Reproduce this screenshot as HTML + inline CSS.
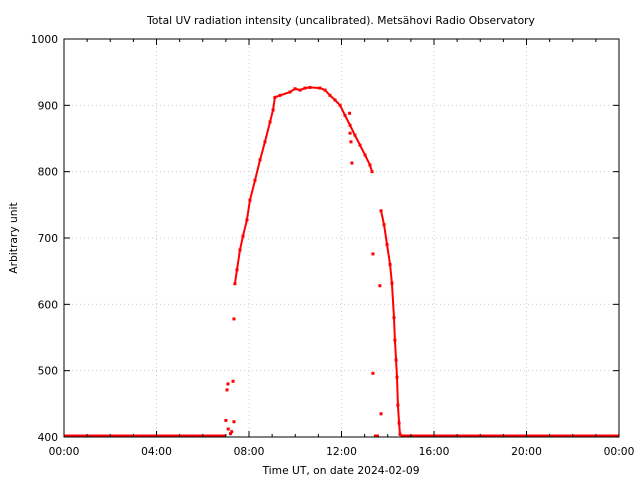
<!DOCTYPE html>
<html><head><meta charset="utf-8"><style>
body{margin:0;background:#fff}
svg text{font-family:"DejaVu Sans","Liberation Sans",sans-serif;font-size:10.7px;fill:#000}
</style></head><body>
<svg width="640" height="480" id="c">
<text x="341" y="24" text-anchor="middle">Total UV radiation intensity (uncalibrated). Metsähovi Radio Observatory</text>
<text x="341" y="474" text-anchor="middle">Time UT, on date 2024-02-09</text>
<text transform="translate(17,238) rotate(-90)" text-anchor="middle">Arbitrary unit</text>
<g id="grid"></g>
<g id="marks"></g>
<rect x="64" y="39" width="555" height="398" fill="none" stroke="#000" stroke-width="1"/>
<g id="axes"></g>
</svg>
<script>
const yTicks=[400,500,600,700,800,900,1000];
const xTicks=[0,4,8,12,16,20,24];
const xTickLabels=["00:00","04:00","08:00","12:00","16:00","20:00","00:00"];
const riseT=[7.39,7.48,7.61,7.74,7.91,8.04,8.26,8.48,8.69,8.91,9.04,9.12,9.34,9.77,9.99,10.21,10.42,10.64,11.07,11.29,11.50,11.72,11.94,12.15,12.37,12.58,12.80,13.02,13.23,13.32];
const riseV=[631,652,682,703,727,757,787,818,845,875,893,912,915,920,925,923,926,927,926,923,915,908,900,885,870,855,840,825,810,800];
const fallT=[13.71,13.84,13.97,14.10,14.18,14.27,14.31,14.36,14.40,14.44,14.49,14.53];
const fallV=[741,720,690,660,632,580,546,516,490,448,421,404];
const outT=[7.05,7.09,7.0,7.31,7.35,7.35,7.2,7.1,7.25,12.37,12.41,12.45,12.35,13.36,13.36,13.66,13.71];
const outV=[471,480,425,484,578,423,405,412,408,858,845,813,888,676,496,628,435];
const baseStart=[0,13.4,14.55];
const baseEnd=[7.0,13.62,24];
const X=h=>64+h*555/24, Y=v=>437-(v-400)*398/600;
const NS="http://www.w3.org/2000/svg";
function mk(t,a,p){const e=document.createElementNS(NS,t);for(const k in a)e.setAttribute(k,a[k]);p.appendChild(e);return e;}
const grid=document.getElementById('grid'),axes=document.getElementById('axes'),marks=document.getElementById('marks');
yTicks.forEach(v=>{const y=Y(v);
 if(v>400&&v<1000){const g=mk('line',{x1:64,x2:619,y1:y,y2:y,stroke:'#ccc','stroke-dasharray':'1,3'},grid);}
 const t=mk('line',{x1:64,x2:70,y1:y,y2:y,stroke:'#000'},axes);
 mk('line',{x1:613,x2:619,y1:y,y2:y,stroke:'#000'},axes);
 const l=mk('text',{x:58,y:y+4,'text-anchor':'end'},axes);l.textContent=v;});
for(let h=0;h<=24;h++){const x=X(h);const major=h%4===0;
 mk('line',{x1:x,x2:x,y1:437,y2:major?431:434,stroke:'#000'},axes);
 mk('line',{x1:x,x2:x,y1:39,y2:major?45:42,stroke:'#000'},axes);
 if(major&&h>0&&h<24){const g=mk('line',{x1:x,x2:x,y1:39,y2:437,stroke:'#ccc','stroke-dasharray':'1,3'},grid);}}
xTicks.forEach((h,i)=>{const l=mk('text',{x:X(h),y:455,'text-anchor':'middle'},axes);l.textContent=xTickLabels[i];});
baseStart.forEach((s,i)=>{const b=mk('line',{x1:X(s),x2:X(baseEnd[i]),y1:Y(400)-1,y2:Y(400)-1,stroke:'#f00','stroke-width':3},marks);});
function curve(T,V,name){const p=mk('polyline',{points:T.map((t,i)=>X(t)+','+Y(V[i])).join(' '),fill:'none',stroke:'#f00','stroke-width':2},marks);
 T.forEach((t,i)=>{const d=mk('rect',{x:X(t)-1.5,y:Y(V[i])-1.5,width:3,height:3,fill:'#f00'},marks);});}
curve(riseT,riseV,'rising-curve');curve(fallT,fallV,'falling-curve');
outT.forEach((t,i)=>{const d=mk('rect',{x:X(t)-1.5,y:Y(outV[i])-1.5,width:3,height:3,fill:'#f00'},marks);});
</script>
</body></html>
